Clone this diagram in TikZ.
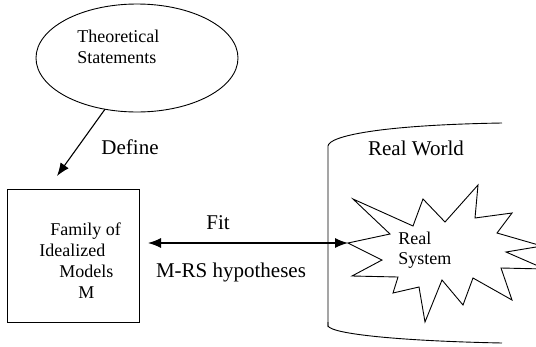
\documentclass[tikz,border=0pt]{standalone}
\usepackage{fontspec}
\setmainfont{Liberation Serif}
\usetikzlibrary{arrows.meta,shapes.geometric}
\begin{document}
\begin{tikzpicture}[x=1pt,y=-1pt,line width=0.9pt,
        inner/.style={font=\fontsize{18}{20.5}\selectfont,inner sep=0pt,align=left},
        lbl/.style={font=\fontsize{21}{25}\selectfont,inner sep=0pt},
        arr/.style={line width=1.1pt,-{Latex[length=13pt,width=10pt]}}]
        \useasboundingbox (0,0) rectangle (536,346);
        \node[draw,ellipse,minimum width=202pt,minimum height=108pt,inner sep=0pt,outer sep=0pt] (theory) at (137,58) {};
        \node[inner,anchor=west] (theorytext) at (77,47) {Theoretical\\Statements};
        \node[draw,minimum width=132pt,minimum height=133pt,inner sep=0pt,outer sep=0pt] (models) at (73,255.5) {};
        \node[inner,anchor=west,font=\fontsize{18}{21}\selectfont] (modelstext) at (39,260.5)
            {\hspace*{11pt}Family of\\Idealized\\\hspace*{20pt}Models\\\hspace*{39pt}M};
        % real world container
        \draw (328,327) -- (328,146) .. controls (329,136) and (380,125) .. (502,123);
        \draw (328,322) -- (328,326) .. controls (332,334) and (400,341) .. (502,343);
        \node[lbl] (world) at (416,148) {Real World};
        % real system
        \draw (353,199) -- (413,226) -- (423,199) -- (445,222) -- (478,185) -- (475,218)
            -- (512,213) -- (497,233) -- (542,246) -- (506,252) -- (545,269) -- (501,268)
            -- (512,300) -- (473,278) -- (463,305) -- (442,280) -- (425,322) -- (419,287)
            -- (393,293) -- (398,277) -- (352,276) -- (382,260) -- (348,243) coordinate (sysL)
            -- (390,234) -- cycle;
        \node[inner,anchor=west] (system) at (398,250) {Real\\System};
        % connectors
        \coordinate (deftip) at (57,176);
        \draw[arr] (theory.238) -- (deftip);
        \node[lbl] (define) at (130,147) {Define};
        \draw[arr,{Latex[length=13pt,width=10pt]}-{Latex[length=13pt,width=10pt]},shorten <=9pt] (models.east |- sysL) -- (sysL);
        \node[lbl] (fit) at (218,223) {Fit};
        \node[lbl] (hyp) at (231,272) {M-RS hypotheses};
    \end{tikzpicture}
\end{document}
